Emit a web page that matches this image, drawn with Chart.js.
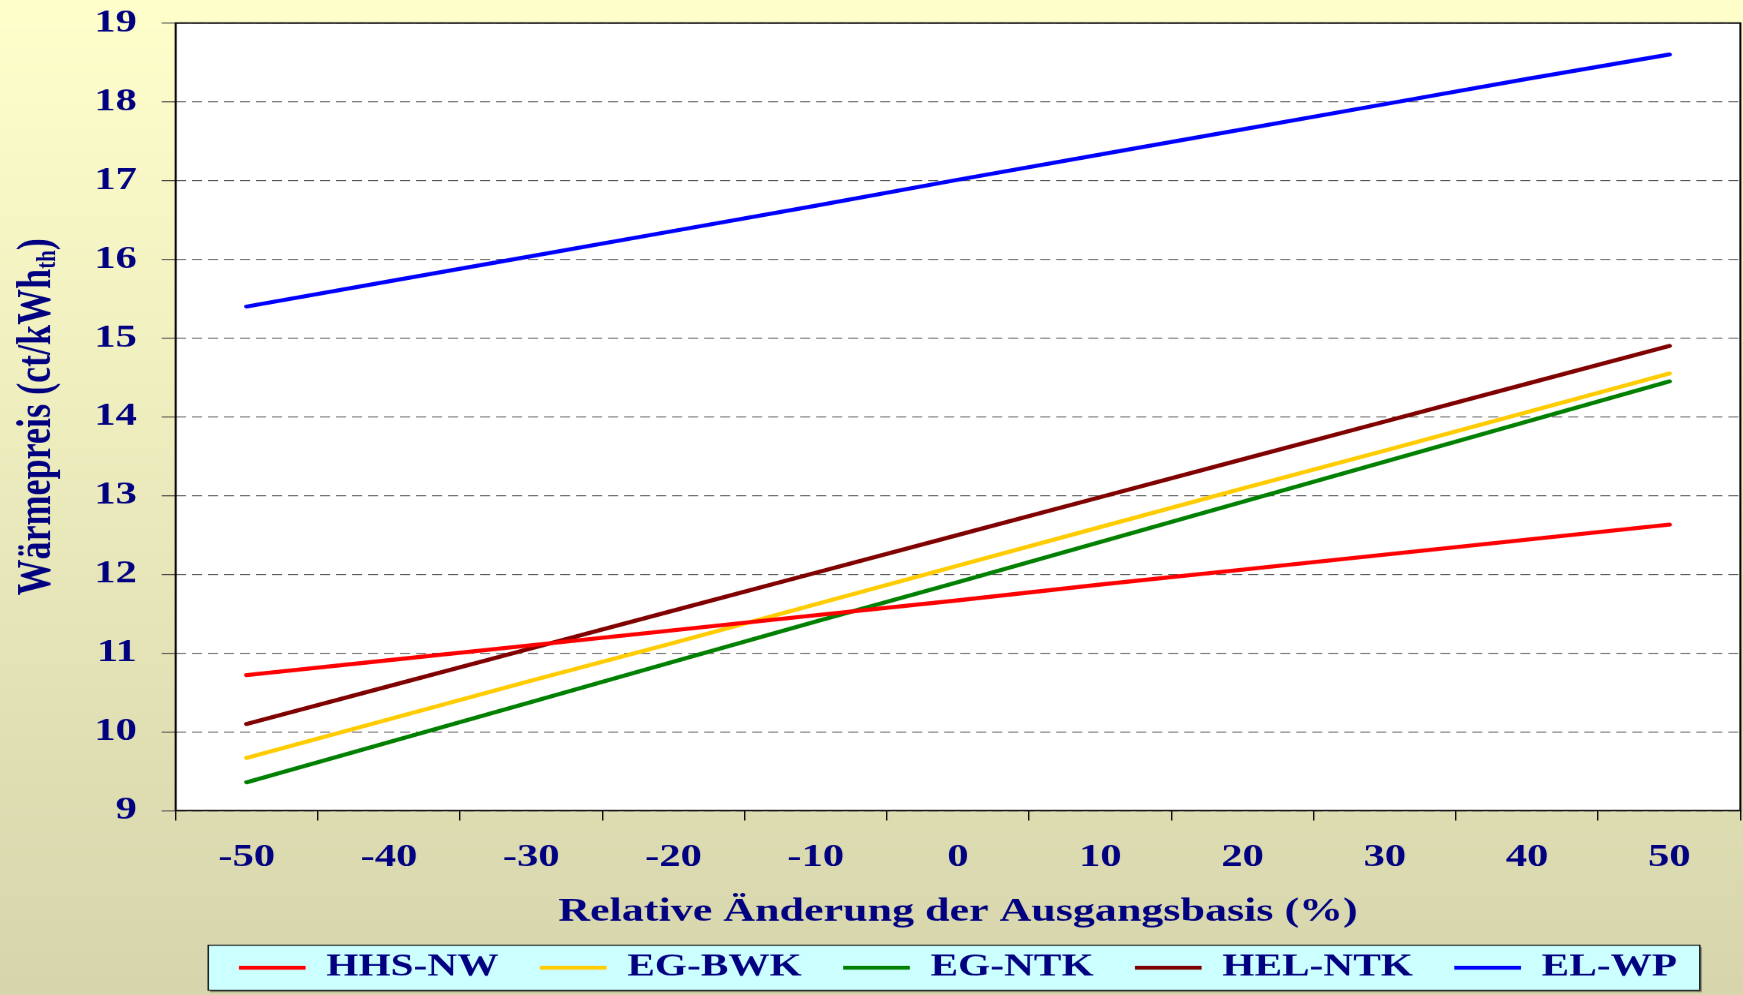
<!DOCTYPE html>
<html lang="de">
<head>
<meta charset="UTF-8">
<title>Wärmepreis – Sensitivität</title>
<script src="https://cdn.jsdelivr.net/npm/chart.js@4"></script>
<style>
  html, body { margin: 0; padding: 0; overflow: hidden; background: #fff; }
  #wrap { width: 1743px; height: 995px; overflow: hidden; }
  /* the original picture is stretched sideways, so the chart is drawn narrow and widened */
  #chart { display: block; transform: scaleX(1.33359); transform-origin: 0 0; }
</style>
</head>
<body>
<div id="wrap"><canvas id="chart" width="1307" height="995"></canvas></div>
<script>
// relative change of the base values (%)
const changes = ['-50', '-40', '-30', '-20', '-10', '0', '10', '20', '30', '40', '50'];

// heat price in ct/kWh_th
const hhsNw  = [10.72, 10.91, 11.10, 11.29, 11.48, 11.67, 11.87, 12.06, 12.25, 12.44, 12.63];
const egBwk  = [9.67, 10.16, 10.65, 11.13, 11.62, 12.11, 12.60, 13.09, 13.57, 14.06, 14.55];
const egNtk  = [9.36, 9.87, 10.38, 10.89, 11.40, 11.90, 12.41, 12.92, 13.43, 13.94, 14.45];
const helNtk = [10.10, 10.58, 11.06, 11.54, 12.02, 12.50, 12.98, 13.46, 13.94, 14.42, 14.90];
const elWp   = [15.40, 15.72, 16.04, 16.36, 16.68, 17.01, 17.33, 17.65, 17.97, 18.29, 18.60];

const navy = '#000080';
const serif = '"Liberation Serif", "Times New Roman", serif';

Chart.defaults.font.family = serif;
Chart.defaults.font.weight = 'bold';

const backdrop = {
  id: 'backdrop',
  beforeDraw(chart) {
    const {ctx, width, height, chartArea: a, legend} = chart;
    ctx.save();
    const g = ctx.createLinearGradient(0, 0, 0, height);
    g.addColorStop(0, '#FFFFCC');
    g.addColorStop(1, '#D6D5AC');
    ctx.fillStyle = g;
    ctx.fillRect(0, 0, width, height);
    ctx.fillStyle = '#FFFFFF';
    ctx.fillRect(a.left, a.top, a.right - a.left, a.bottom - a.top);

    // legend frame
    const hb = legend.legendHitBoxes;
    if (hb && hb.length) {
      const last = hb[hb.length - 1];
      const l = hb[0].left - 23, r = last.left + last.width + 17;
      const t = hb[0].top - 7, b = hb[0].top + hb[0].height + 7;
      ctx.fillStyle = '#8a8a74';
      ctx.fillRect(l + 1.5, t + 2, r - l, b - t);
      ctx.fillStyle = '#CCFFFF';
      ctx.fillRect(l, t, r - l, b - t);
      ctx.strokeStyle = '#000';
      ctx.lineWidth = 1;
      ctx.strokeRect(l, t, r - l, b - t);
    }
    ctx.restore();
  },
  afterDraw(chart) {
    const {ctx, chartArea: a} = chart;
    ctx.save();
    ctx.strokeStyle = '#000';
    ctx.lineWidth = 1.5;
    ctx.strokeRect(a.left, a.top, a.right - a.left, a.bottom - a.top);

    // y axis title with subscript
    const main = 'Wärmepreis (ct/kWh', sub = 'th', close = ')';
    ctx.fillStyle = navy;
    ctx.textBaseline = 'alphabetic';
    ctx.font = 'bold 36px ' + serif;
    const w1 = ctx.measureText(main).width, w3 = ctx.measureText(close).width;
    ctx.font = 'bold 21px ' + serif;
    const w2 = ctx.measureText(sub).width;
    ctx.translate(37.5, (a.top + a.bottom) / 2);
    ctx.rotate(-Math.PI / 2);
    let x = -(w1 + w2 + w3) / 2;
    ctx.font = 'bold 36px ' + serif;
    ctx.fillText(main, x, 0);
    ctx.font = 'bold 21px ' + serif;
    ctx.fillText(sub, x + w1, 4);
    ctx.font = 'bold 36px ' + serif;
    ctx.fillText(close, x + w1 + w2, 0);
    ctx.restore();
  }
};

function series(label, data, color) {
  return {
    label, data,
    borderColor: color,
    backgroundColor: color,
    borderWidth: 4,
    borderCapStyle: 'round',
    pointRadius: 0,
    pointHoverRadius: 0,
    tension: 0,
    fill: false
  };
}

new Chart(document.getElementById('chart'), {
  type: 'line',
  data: {
    labels: changes,
    datasets: [
      series('HHS-NW', hhsNw, '#FF0000'),
      series('EG-BWK', egBwk, '#FFCC00'),
      series('EG-NTK', egNtk, '#008000'),
      series('HEL-NTK', helNtk, '#800000'),
      series('EL-WP', elWp, '#0000FF')
    ]
  },
  plugins: [backdrop],
  options: {
    responsive: false,
    animation: false,
    devicePixelRatio: 1.3336,
    layout: { padding: { top: 23, right: 2, bottom: 2.5, left: 0 } },
    plugins: {
      legend: {
        position: 'bottom',
        fullSize: false,
        labels: {
          usePointStyle: true,
          pointStyle: 'line',
          pointStyleWidth: 50,
          padding: 31,
          color: navy,
          font: { size: 31, weight: 'bold' }
        }
      },
      tooltip: { enabled: false }
    },
    scales: {
      x: {
        offset: true,
        grid: { offset: true, drawOnChartArea: false, tickLength: 10, tickColor: '#000', tickWidth: 1 },
        border: { display: false },
        ticks: { color: navy, font: { size: 32, weight: 'bold' }, padding: 18 },
        title: {
          display: true,
          text: 'Relative Änderung der Ausgangsbasis (%)',
          color: navy,
          font: { size: 33, weight: 'bold' },
          padding: { top: 0, bottom: -11 }
        },
        afterFit(scale) {
          scale.height = 110.5;
          scale.paddingLeft = 0;
          scale.paddingRight = 0;
        }
      },
      y: {
        min: 9,
        max: 19,
        ticks: { stepSize: 1, color: navy, font: { size: 32, weight: 'bold' }, padding: 18.5 },
        grid: { color: '#555555', lineWidth: 1, tickLength: 10.5, tickColor: '#444444', tickBorderDash: [] },
        border: { display: false, dash: [7.5, 4.5] },
        afterFit(scale) {
          scale.width = 131.7;
          scale.paddingTop = 0;
          scale.paddingBottom = 0;
        }
      }
    }
  }
});
</script>
</body>
</html>
